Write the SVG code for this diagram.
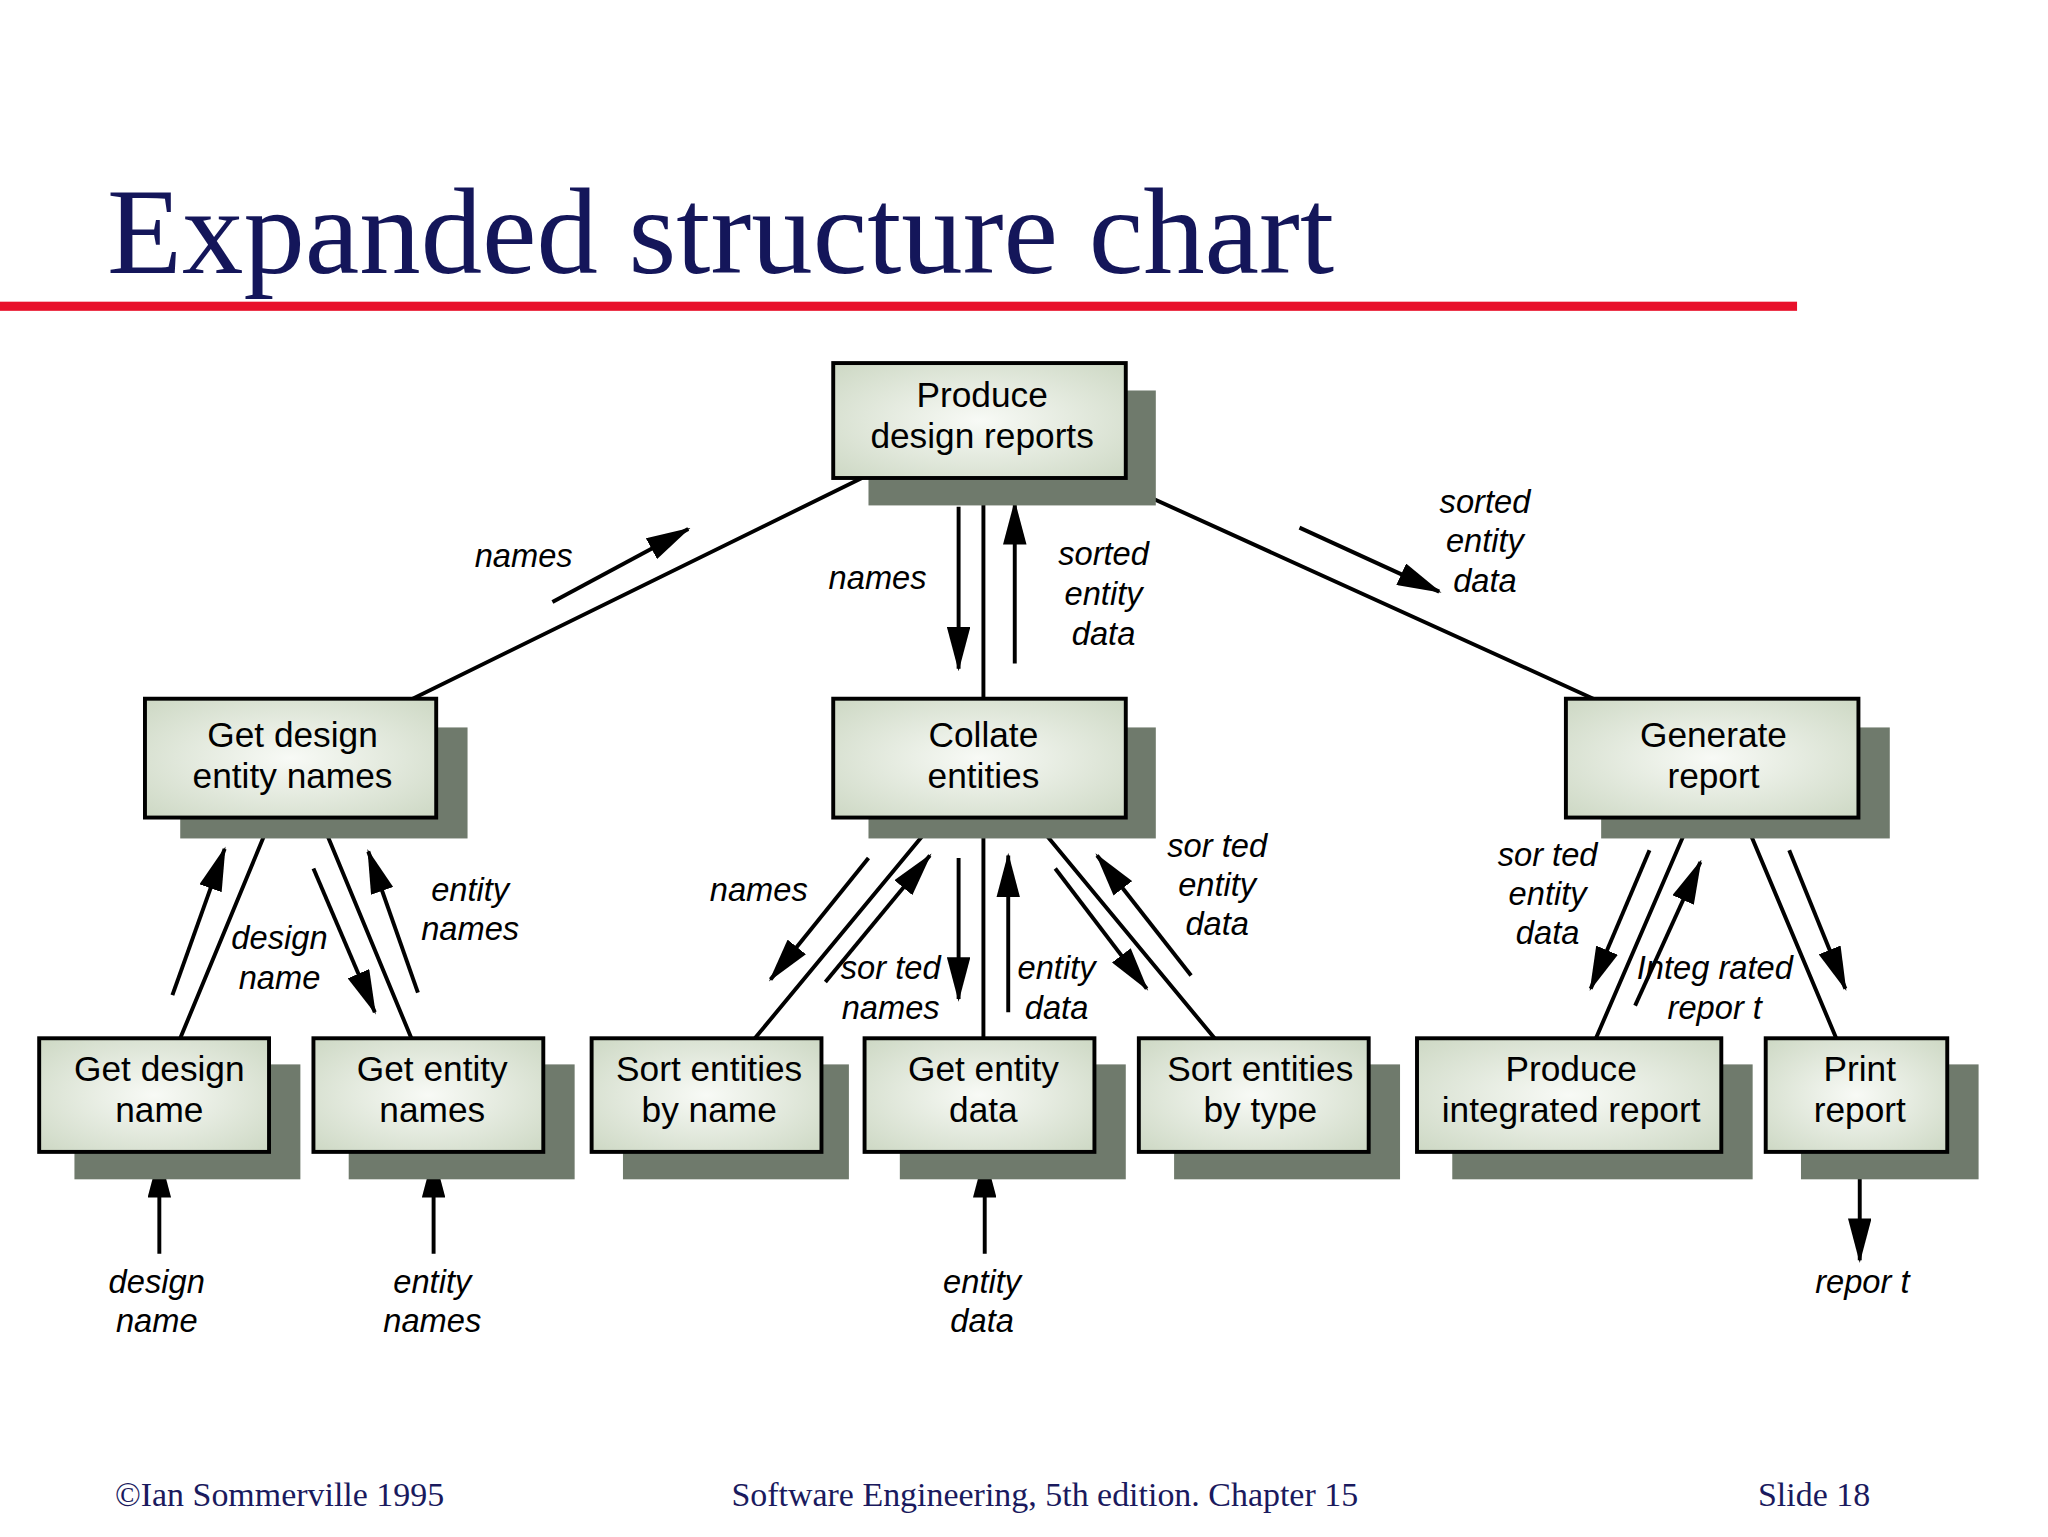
<svg xmlns="http://www.w3.org/2000/svg" width="2048" height="1537" viewBox="0 0 2048 1537">
<defs>
<radialGradient id="g" cx="0.5" cy="0.5" r="0.7"><stop offset="0" stop-color="#f8faf6"/><stop offset="1" stop-color="#cdd8c4"/></radialGradient>
<marker id="a" markerUnits="userSpaceOnUse" markerWidth="34" markerHeight="18" refX="32" refY="9" orient="auto"><path d="M0,0 L34,9 L0,18 Z" fill="#000"/></marker>
<style>
.sh{fill:#6f7a6c}
.bx{fill:url(#g);stroke:#000;stroke-width:3}
.t{font-family:"Liberation Sans",Arial,sans-serif;font-size:27px;text-anchor:middle;fill:#000}
.l{font-family:"Liberation Sans",Arial,sans-serif;font-size:25px;font-style:italic;text-anchor:middle;fill:#000}
.e{stroke:#000;stroke-width:3;fill:none}
.ar{stroke:#000;stroke-width:3;fill:none;marker-end:url(#a)}
.f{font-family:"Liberation Serif","Times New Roman",serif;font-size:26px;fill:#1a1a5e}
</style>
</defs>
<rect width="2048" height="1537" fill="#fff"/>
<g transform="scale(1.306)">
<text x="82" y="209" font-family="Liberation Serif,'Times New Roman',serif" font-size="94" fill="#14165a">Expanded structure chart</text>
<rect x="0" y="231" width="1376" height="7" fill="#e8102a"/>
<g id="connectors">
<path class="e" d="M660,366 L316,535 M753,366 L753,535 M848,366 L1220,535 M208,626 L138,795 M245,626 L315,795 M718,626 L578,795 M753,626 L753,795 M790,626 L930,795 M1295,626 L1222,795 M1335,626 L1406,795"/>
<path class="ar" d="M423,461 L527,405"/>
<path class="ar" d="M734,388 L734,512"/>
<path class="ar" d="M777,508 L777,385"/>
<path class="ar" d="M995,404 L1102,453"/>
<path class="ar" d="M132,762 L172,650"/>
<path class="ar" d="M240,665 L287,775"/>
<path class="ar" d="M320,760 L282,652"/>
<path class="ar" d="M665,657 L590,750"/>
<path class="ar" d="M632,752 L712,655"/>
<path class="ar" d="M734,657 L734,765"/>
<path class="ar" d="M772,775 L772,655"/>
<path class="ar" d="M808,665 L878,757"/>
<path class="ar" d="M912,747 L840,655"/>
<path class="ar" d="M1263,651 L1218,757"/>
<path class="ar" d="M1252,770 L1302,660"/>
<path class="ar" d="M1370,651 L1413,757"/>
<path class="ar" d="M122,960 L122,885"/>
<path class="ar" d="M332,960 L332,885"/>
<path class="ar" d="M754,960 L754,885"/>
<path class="ar" d="M1424,882 L1424,965"/>
<text class="l" x="401" y="434">names</text>
<text class="l" x="672" y="451">names</text>
<text class="l"><tspan x="845" y="433">sorted</tspan><tspan x="845" y="463">entity</tspan><tspan x="845" y="494">data</tspan></text>
<text class="l"><tspan x="1137" y="393">sorted</tspan><tspan x="1137" y="423">entity</tspan><tspan x="1137" y="453">data</tspan></text>
<text class="l"><tspan x="214" y="727">design</tspan><tspan x="214" y="757">name</tspan></text>
<text class="l"><tspan x="360" y="690">entity</tspan><tspan x="360" y="720">names</tspan></text>
<text class="l" x="581" y="690">names</text>
<text class="l"><tspan x="682" y="750">sor ted</tspan><tspan x="682" y="780">names</tspan></text>
<text class="l"><tspan x="809" y="750">entity</tspan><tspan x="809" y="780">data</tspan></text>
<text class="l"><tspan x="932" y="656">sor ted</tspan><tspan x="932" y="686">entity</tspan><tspan x="932" y="716">data</tspan></text>
<text class="l"><tspan x="1185" y="663">sor ted</tspan><tspan x="1185" y="693">entity</tspan><tspan x="1185" y="723">data</tspan></text>
<text class="l"><tspan x="1313" y="750">Integ rated</tspan><tspan x="1313" y="780">repor t</tspan></text>
<text class="l"><tspan x="120" y="990">design</tspan><tspan x="120" y="1020">name</tspan></text>
<text class="l"><tspan x="331" y="990">entity</tspan><tspan x="331" y="1020">names</tspan></text>
<text class="l"><tspan x="752" y="990">entity</tspan><tspan x="752" y="1020">data</tspan></text>
<text class="l" x="1426" y="990">repor t</text>
</g>
<g id="n1"><rect class="sh" x="665" y="299" width="220" height="88"/><rect class="bx" x="638" y="278" width="224" height="88"/><text class="t"><tspan x="752" y="312">Produce</tspan><tspan x="752" y="343">design reports</tspan></text></g>
<g id="n2"><rect class="sh" x="138" y="557" width="220" height="85"/><rect class="bx" x="111" y="535" width="223" height="91"/><text class="t"><tspan x="224" y="572">Get design</tspan><tspan x="224" y="603">entity names</tspan></text></g>
<g id="n3"><rect class="sh" x="665" y="557" width="220" height="85"/><rect class="bx" x="638" y="535" width="224" height="91"/><text class="t"><tspan x="753" y="572">Collate</tspan><tspan x="753" y="603">entities</tspan></text></g>
<g id="n4"><rect class="sh" x="1226" y="557" width="221" height="85"/><rect class="bx" x="1199" y="535" width="224" height="91"/><text class="t"><tspan x="1312" y="572">Generate</tspan><tspan x="1312" y="603">report</tspan></text></g>
<g id="n5"><rect class="sh" x="57" y="815" width="173" height="88"/><rect class="bx" x="30" y="795" width="176" height="87"/><text class="t"><tspan x="122" y="828">Get design</tspan><tspan x="122" y="859">name</tspan></text></g>
<g id="n6"><rect class="sh" x="267" y="815" width="173" height="88"/><rect class="bx" x="240" y="795" width="176" height="87"/><text class="t"><tspan x="331" y="828">Get entity</tspan><tspan x="331" y="859">names</tspan></text></g>
<g id="n7"><rect class="sh" x="477" y="815" width="173" height="88"/><rect class="bx" x="453" y="795" width="176" height="87"/><text class="t"><tspan x="543" y="828">Sort entities</tspan><tspan x="543" y="859">by name</tspan></text></g>
<g id="n8"><rect class="sh" x="689" y="815" width="173" height="88"/><rect class="bx" x="662" y="795" width="176" height="87"/><text class="t"><tspan x="753" y="828">Get entity</tspan><tspan x="753" y="859">data</tspan></text></g>
<g id="n9"><rect class="sh" x="899" y="815" width="173" height="88"/><rect class="bx" x="872" y="795" width="176" height="87"/><text class="t"><tspan x="965" y="828">Sort entities</tspan><tspan x="965" y="859">by type</tspan></text></g>
<g id="n10"><rect class="sh" x="1112" y="815" width="230" height="88"/><rect class="bx" x="1085" y="795" width="233" height="87"/><text class="t"><tspan x="1203" y="828">Produce</tspan><tspan x="1203" y="859">integrated report</tspan></text></g>
<g id="n11"><rect class="sh" x="1379" y="815" width="136" height="88"/><rect class="bx" x="1352" y="795" width="139" height="87"/><text class="t"><tspan x="1424" y="828">Print</tspan><tspan x="1424" y="859">report</tspan></text></g>
<text class="f" x="88" y="1153">©Ian Sommerville 1995</text>
<text class="f" x="800" y="1153" text-anchor="middle">Software Engineering, 5th edition. Chapter 15</text>
<text class="f" x="1432" y="1153" text-anchor="end">Slide 18</text>
</g>
</svg>
